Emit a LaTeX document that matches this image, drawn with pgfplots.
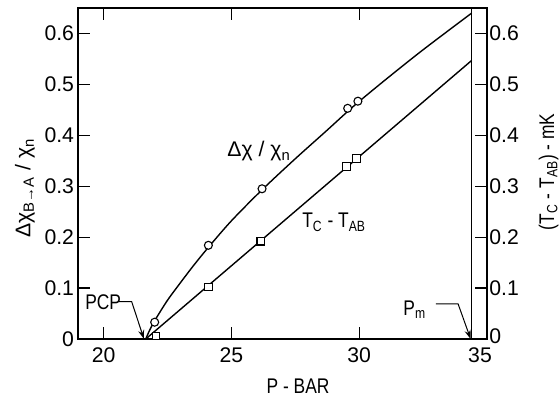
\documentclass[border=0pt]{standalone}
\usepackage{fontspec}
\setmainfont{Liberation Sans}
\newfontfamily\narrow[FakeStretch=0.82]{Liberation Sans}
\usepackage{pgfplots}
\pgfplotsset{compat=1.18}
\usetikzlibrary{arrows.meta}

\newcommand{\lblfont}{\fontsize{10.6}{12}\selectfont}

\begin{document}
\begin{tikzpicture}
\pgfplotsset{
  frame/.style={
    at={(0,0)}, anchor=south west,
    scale only axis, width=204.5pt, height=165.5pt,
    xmin=19, xmax=35, ymin=0, ymax=0.65,
    tick align=inside, major tick length=6pt,
    axis line style={line width=0.8pt},
    tick style={line width=0.6pt, black},
    /pgf/number format/assume math mode=true,
    tick label style={font=\lblfont},
    ytick={0,0.1,0.2,0.3,0.4,0.5,0.6},
    clip=false,
  }
}
\begin{axis}[
    frame,
    xtick={20,25,30,35},
    xticklabels={20,25,30,\hspace*{-7pt}35},
    yticklabels={0,0.1,0.2,0.3,0.4,0.5,0.6},
    xtick pos=both, ytick pos=left,
    xticklabel style={yshift=-1pt},
    yticklabel style={inner sep=1.8pt},
    xlabel={\narrow P - BAR},
    xlabel style={font=\lblfont, at={(rel axis cs:0.538,0)}, anchor=center, yshift=-23.5pt},
    ylabel={Δχ\textsubscript{B→A} / χ\textsubscript{n}},
    ylabel style={font=\lblfont, at={(rel axis cs:-0.1296,0.456)}, anchor=center},
]
% upper curve, delta chi / chi_n
\addplot[black, line width=0.7pt, smooth, tension=0.5] coordinates {
    (21.65,0) (21.8,0.017) (22.0,0.036) (22.5,0.076) (23.0,0.110)
    (23.5,0.143) (24.1,0.180) (25.0,0.232) (26.2,0.293) (27.5,0.354)
    (28.7,0.408) (29.8,0.458) (31.0,0.508) (32.5,0.568) (34.4,0.640)
};
% lower line, Tc - TAB
\addplot[black, line width=0.7pt] coordinates {(21.65,0) (34.4,0.547)};
% Pm
\addplot[black, line width=0.7pt] coordinates {(34.4,0) (34.4,0.65)};

\addplot[only marks, mark=*, mark size=2pt,
    mark options={fill=white, draw=black, line width=0.55pt}] coordinates {
    (22.0,0.033) (24.1,0.184) (26.2,0.295) (29.55,0.453) (29.95,0.467)
};
\addplot[only marks, mark=square*, mark size=1.9pt,
    mark options={fill=white, draw=black, line width=0.55pt}] coordinates {
    (22.05,0.006) (24.1,0.102) (26.15,0.192) (29.5,0.339) (29.9,0.354)
};

\node[font=\lblfont, anchor=base west, inner sep=0pt] at (axis cs:24.83,0.3576)
    {Δχ / χ\textsubscript{n}};
\node[font=\lblfont, anchor=base west, inner sep=0pt] at (axis cs:27.76,0.218)
    {\narrow T\textsubscript{C} - T\textsubscript{AB}};

\node[font=\lblfont, anchor=base west, inner sep=0pt] at (axis cs:19.27,0.057) {\narrow PCP};
\draw[line width=0.5pt, -{Stealth[length=4.5pt,width=3pt]}]
    (axis cs:20.6,0.0733) -- (axis cs:21.1,0.0733) -- (axis cs:21.58,0);

\node[font=\lblfont, anchor=base west, inner sep=0pt] at (axis cs:31.715,0.047)
    {\narrow P\textsubscript{m}};
\draw[line width=0.5pt, -{Stealth[length=4.5pt,width=3pt]}]
    (axis cs:33.0,0.0688) -- (axis cs:33.87,0.0688) -- (axis cs:34.36,0);
\end{axis}

\begin{axis}[
    frame,
    axis x line=none, axis y line*=right,
    ytick pos=right,
    yticklabels={\raisebox{2.5pt}{0},0.1,0.2,0.3,0.4,0.5,0.6},
    yticklabel style={inner sep=1pt},
    ylabel={\narrow(T\textsubscript{C} - T\textsubscript{AB}) - mK},
    ylabel style={font=\lblfont, at={(rel axis cs:1.1504,0.505)}, anchor=center},
]
\end{axis}

\pgfresetboundingbox
\path (-39pt,-30.5pt) rectangle (241pt,169.5pt);
\end{tikzpicture}
\end{document}
